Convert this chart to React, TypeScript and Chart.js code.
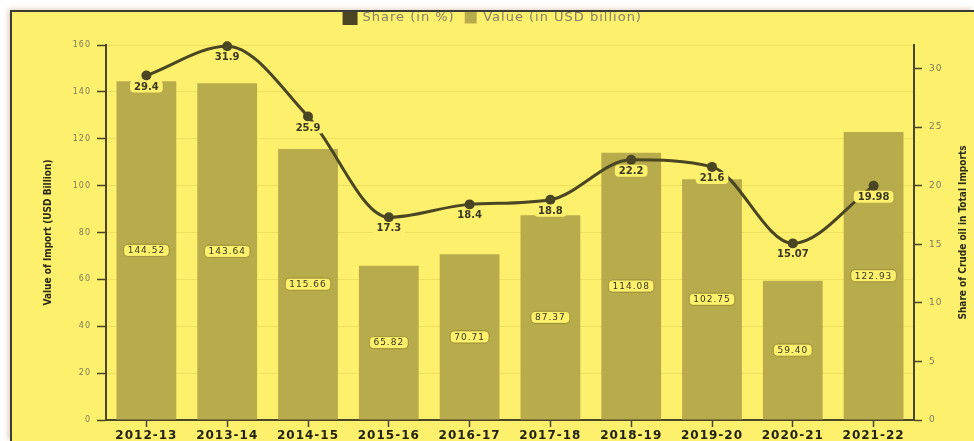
import React, { useEffect, useRef } from "react";
import { Chart, registerables } from "chart.js";

Chart.register(...registerables);

const categories = ["2012-13", "2013-14", "2014-15", "2015-16", "2016-17", "2017-18", "2018-19", "2019-20", "2020-21", "2021-22"];
const importValue = [144.52, 143.64, 115.66, 65.82, 70.71, 87.37, 114.08, 102.75, 59.4, 122.93];
const crudeShare = [29.4, 31.9, 25.9, 17.3, 18.4, 18.8, 22.2, 21.6, 15.07, 19.98];
const shareLabel = "Share (in %)";
const valueLabel = "Value (in USD billion)";
const leftTitle = "Value of Import (USD Billion)";
const rightTitle = "Share of Crude oil in Total Imports";

const BG = "#fdf06c";
const BAR = "#b8ab4c";
const LINE = "#4a4522";
const AXIS = "#4a4526";

function box(ctx: CanvasRenderingContext2D, x: number, y: number, w: number, h: number, r: number) {
  ctx.beginPath();
  if ((ctx as any).roundRect) (ctx as any).roundRect(x, y, w, h, r);
  else ctx.rect(x, y, w, h);
}

const labelPlugin = {
  id: "valueLabels",
  beforeUpdate(chart: any) {
    chart.ctx.letterSpacing = "1px";
  },
  beforeDraw(chart: any) {
    chart.ctx.letterSpacing = "1px";
  },
  afterDatasetsDraw(chart: any) {
    const ctx = chart.ctx as CanvasRenderingContext2D;
    ctx.save();
    ctx.textAlign = "center";
    ctx.textBaseline = "middle";
    (ctx as any).letterSpacing = "1px";
    // bar labels
    ctx.font = '9px "DejaVu Sans"';
    chart.getDatasetMeta(1).data.forEach((el: any, i: number) => {
      const p = el.getProps(["x", "y", "base"], true);
      const cy = (p.y + p.base) / 2;
      const t = importValue[i].toFixed(2);
      const w = ctx.measureText(t).width + 8;
      const h = 12;
      box(ctx, p.x - w / 2, cy - h / 2, w, h, 4);
      ctx.fillStyle = BG;
      ctx.fill();
      ctx.lineWidth = 1;
      ctx.strokeStyle = "rgba(110,100,30,0.55)";
      ctx.stroke();
      ctx.fillStyle = "#3a3820";
      ctx.fillText(t, p.x, cy + 0.5);
    });
    // line labels
    ctx.font = 'bold 10px "DejaVu Sans"';
    (ctx as any).letterSpacing = "0px";
    chart.getDatasetMeta(0).data.forEach((el: any, i: number) => {
      const p = el.getProps(["x", "y"], true);
      const cy = p.y + 11;
      const t = String(crudeShare[i]);
      const w = ctx.measureText(t).width + 8;
      const h = 12;
      box(ctx, p.x - w / 2, cy - h / 2, w, h, 4);
      ctx.fillStyle = BG;
      ctx.fill();
      ctx.fillStyle = "#3a3820";
      ctx.fillText(t, p.x, cy + 0.5);
    });
    ctx.restore();
  },
  afterDraw(chart: any) {
    const ctx = chart.ctx as CanvasRenderingContext2D;
    const { top, bottom } = chart.chartArea;
    const cy = (top + bottom) / 2;
    ctx.save();
    (ctx as any).letterSpacing = "0px";
    ctx.font = 'bold 10px "Liberation Sans Narrow", "DejaVu Sans Condensed", "Liberation Sans", sans-serif';
    ctx.fillStyle = "#2a2a15";
    ctx.textAlign = "center";
    ctx.textBaseline = "middle";
    ctx.save();
    ctx.translate(36, cy);
    ctx.rotate(-Math.PI / 2);
    ctx.fillText(leftTitle, 0, 0);
    ctx.restore();
    ctx.save();
    ctx.translate(951, cy);
    ctx.rotate(-Math.PI / 2);
    ctx.fillText(rightTitle, 0, 0);
    ctx.restore();
    ctx.restore();
  },
};

export default function App() {
  const ref = useRef<HTMLCanvasElement | null>(null);

  useEffect(() => {
    document.body.style.margin = "0";
    document.body.style.overflow = "hidden";
    const canvas = ref.current!;
    const chart = new Chart(canvas, {
      type: "bar",
      data: {
        labels: categories,
        datasets: [
          {
            type: "line",
            label: shareLabel,
            data: crudeShare,
            yAxisID: "y1",
            borderColor: LINE,
            backgroundColor: LINE,
            borderWidth: 3,
            cubicInterpolationMode: "monotone",
            clip: false,
            pointRadius: 5,
            pointBackgroundColor: LINE,
            pointBorderWidth: 0,
          } as any,
          {
            type: "bar",
            label: valueLabel,
            data: importValue,
            yAxisID: "y",
            backgroundColor: BAR,
            borderWidth: 0,
            barPercentage: 0.74,
            categoryPercentage: 1,
          },
        ],
      },
      options: {
        responsive: false,
        maintainAspectRatio: false,
        animation: false,
        events: [],
        layout: { padding: 0 },
        plugins: {
          legend: {
            position: "top",
            weight: 3000,
            labels: {
              boxWidth: 12,
              boxHeight: 12,
              padding: 10,
              color: "#85806a",
              font: { family: '"DejaVu Sans"', size: 13 },
            },
          } as any,
          title: {
            display: true,
            text: "",
            padding: 0,
            font: { size: 11, lineHeight: 1 },
          },
          tooltip: { enabled: false },
        },
        scales: {
          x: {
            offset: true,
            grid: {
              offset: false,
              drawOnChartArea: false,
              drawTicks: true,
              tickLength: 7,
              tickColor: AXIS,
              tickWidth: 1.5,
            },
            border: { color: AXIS, width: 2 },
            ticks: {
              color: "#23220f",
              padding: 2,
              font: { family: '"DejaVu Sans"', size: 12, weight: "bold" },
            },
            afterFit: (s: any) => {
              s.height = 30;
            },
          },
          y: {
            position: "left",
            min: 0,
            max: 160,
            grid: {
              color: "rgba(170,150,40,0.18)",
              tickColor: AXIS,
              tickLength: 9,
              tickWidth: 1.5,
            },
            border: { color: AXIS, width: 2 },
            ticks: {
              stepSize: 20,
              color: "#807a5a",
              padding: 6,
              font: { family: '"DejaVu Sans"', size: 8 },
            },
            afterFit: (s: any) => {
              s.width = 94;
            },
          },
          y1: {
            position: "right",
            min: 0,
            max: 32,
            grid: {
              drawOnChartArea: false,
              tickColor: AXIS,
              tickLength: 8,
              tickWidth: 1.5,
            },
            border: { color: AXIS, width: 2 },
            ticks: {
              stepSize: 5,
              color: "#807a5a",
              padding: 7,
              font: { family: '"DejaVu Sans"', size: 9 },
            },
            afterBuildTicks: (s: any) => {
              s.ticks = s.ticks.filter((t: any) => t.value % 5 === 0);
            },
            afterFit: (s: any) => {
              s.width = 60;
            },
          },
        },
      } as any,
      plugins: [labelPlugin],
    });
    return () => chart.destroy();
  }, []);

  return (
    <div
      style={{
        position: "absolute",
        left: 10,
        top: 10,
        width: 962,
        height: 429,
        borderLeft: "2px solid #3c3c34",
        borderTop: "2px solid #3c3c34",
        background: BG,
        overflow: "hidden",
        boxShadow: "-2px -1px 5px rgba(170,120,70,0.35)",
      }}
    >
      <canvas ref={ref} width={962} height={449} style={{ position: "absolute", left: 0, top: -11 }} />
    </div>
  );
}
